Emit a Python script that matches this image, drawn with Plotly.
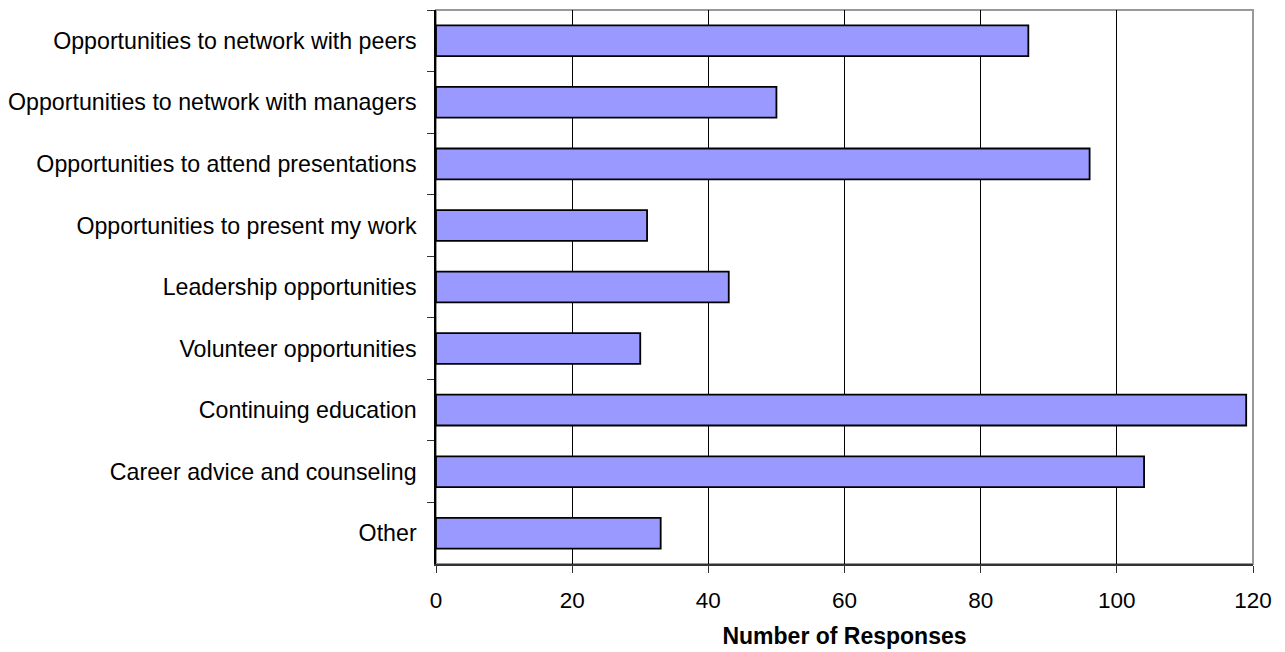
import plotly.graph_objects as go

categories = [
    "Opportunities to network with peers",
    "Opportunities to network with managers",
    "Opportunities to attend presentations",
    "Opportunities to present my work",
    "Leadership opportunities",
    "Volunteer opportunities",
    "Continuing education",
    "Career advice and counseling",
    "Other",
]
responses = [87, 50, 96, 31, 43, 30, 119, 104, 33]
x_ticks = [0, 20, 40, 60, 80, 100, 120]
x_title = "Number of Responses"

FONT = "Liberation Sans, Arial, Helvetica, sans-serif"

fig = go.Figure(
    go.Bar(
        x=responses,
        y=categories,
        orientation="h",
        marker=dict(color="#9999FF", line=dict(color="#000000", width=1.8)),
        width=0.5,
        hoverinfo="x+y",
    )
)

fig.update_layout(
    width=1285,
    height=652,
    margin=dict(l=436, r=32, t=10, b=88, pad=0, autoexpand=False),
    paper_bgcolor="white",
    plot_bgcolor="white",
    showlegend=False,
    font=dict(family=FONT, color="black", size=22),
    xaxis=dict(
        range=[0, 120],
        tickvals=x_ticks,
        ticktext=[str(v) for v in x_ticks],
        showgrid=True,
        gridcolor="#000000",
        gridwidth=1,
        zeroline=False,
        showline=True,
        linecolor="#333333",
        linewidth=1.5,
        ticks="outside",
        ticklen=7,
        tickcolor="#333333",
        tickfont=dict(size=22.5, family=FONT, color="black"),
        ticklabelstandoff=8,
        automargin=False,
        title=dict(
            text="<b>" + x_title + "</b>",
            font=dict(size=23, family=FONT, color="black"),
            standoff=16,
        ),
        fixedrange=True,
    ),
    yaxis=dict(
        type="category",
        categoryorder="array",
        categoryarray=categories,
        autorange="reversed",
        showgrid=False,
        zeroline=False,
        showline=True,
        linecolor="#000000",
        linewidth=1.5,
        ticks="outside",
        tickson="boundaries",
        ticklen=7,
        tickcolor="#333333",
        tickfont=dict(size=23.2, family=FONT, color="black"),
        ticklabelstandoff=13,
        automargin=False,
        fixedrange=True,
    ),
    shapes=[
        dict(
            type="rect", xref="paper", yref="paper", x0=0, x1=1, y0=0, y1=1,
            line=dict(color="#999999", width=2), fillcolor="rgba(0,0,0,0)",
            layer="below",
        )
    ],
)

fig.write_html("out.html")
